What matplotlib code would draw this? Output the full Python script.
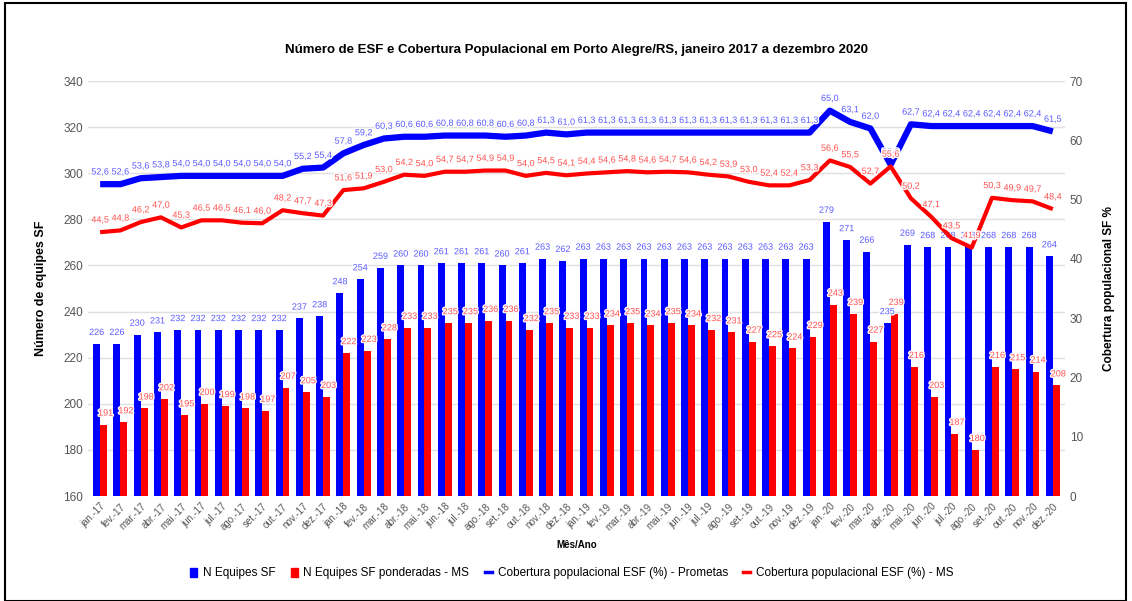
import numpy as np
import matplotlib.pyplot as plt
from matplotlib.patches import Rectangle, Patch
from matplotlib.lines import Line2D
import matplotlib.patheffects as pe

plt.rcParams['font.family'] = ['Liberation Sans', 'DejaVu Sans']

meses = ['jan.', 'fev.', 'mar.', 'abr.', 'mai.', 'jun.', 'jul.', 'ago.', 'set.', 'out.', 'nov.', 'dez.']
anos = ['17', '18', '19', '20']
rotulos = [m + '-' + a for a in anos for m in meses]

equipes = [226, 226, 230, 231, 232, 232, 232, 232, 232, 232, 237, 238,
           248, 254, 259, 260, 260, 261, 261, 261, 260, 261, 263, 262,
           263, 263, 263, 263, 263, 263, 263, 263, 263, 263, 263, 263,
           279, 271, 266, 235, 269, 268, 268, 268, 268, 268, 268, 264]
ponderadas = [191, 192, 198, 202, 195, 200, 199, 198, 197, 207, 205, 203,
              222, 223, 228, 233, 233, 235, 235, 236, 236, 232, 235, 233,
              233, 234, 235, 234, 235, 234, 232, 231, 227, 225, 224, 229,
              243, 239, 227, 239, 216, 203, 187, 180, 216, 215, 214, 208]
cob_prometas = [52.6, 52.6, 53.6, 53.8, 54.0, 54.0, 54.0, 54.0, 54.0, 54.0, 55.2, 55.4,
                57.8, 59.2, 60.3, 60.6, 60.6, 60.8, 60.8, 60.8, 60.6, 60.8, 61.3, 61.0,
                61.3, 61.3, 61.3, 61.3, 61.3, 61.3, 61.3, 61.3, 61.3, 61.3, 61.3, 61.3,
                65.0, 63.1, 62.0, 55.9, 62.7, 62.4, 62.4, 62.4, 62.4, 62.4, 62.4, 61.5]
cob_ms = [44.5, 44.8, 46.2, 47.0, 45.3, 46.5, 46.5, 46.1, 46.0, 48.2, 47.7, 47.3,
          51.6, 51.9, 53.0, 54.2, 54.0, 54.7, 54.7, 54.9, 54.9, 54.0, 54.5, 54.1,
          54.4, 54.6, 54.8, 54.6, 54.7, 54.6, 54.2, 53.9, 53.0, 52.4, 52.4, 53.3,
          56.6, 55.5, 52.7, 55.6, 50.2, 47.1, 43.5, 41.9, 50.3, 49.9, 49.7, 48.4]

azul = '#0000ff'
verm = '#ff0000'
x = np.arange(len(rotulos))
w = 0.34

fig = plt.figure(figsize=(11.32, 6.01), dpi=100)
ax = fig.add_axes([0.0777, 0.1747, 0.8631, 0.6905])
ax2 = ax.twinx()

ax.bar(x - w/2, equipes, w, color=azul, zorder=2)
ax.bar(x + w/2, ponderadas, w, color=verm, zorder=2)
ax.set_ylim(160, 340)
ax.set_yticks(np.arange(160, 341, 20))
ax.set_xlim(-0.6, 47.6)
ax.grid(axis='y', color='#e0e0e0', lw=1, zorder=0)
ax.set_axisbelow(True)

contorno = [pe.withStroke(linewidth=2, foreground='white')]
for xi, v in zip(x, equipes):
    ax.text(xi - w/2, v + 3, str(v), ha='center', va='bottom', fontsize=6.5,
            color='#5a5aff', path_effects=contorno, zorder=5)
for xi, v in zip(x, ponderadas):
    ax.text(xi + w/2 + 0.1, v + 3, str(v), ha='center', va='bottom', fontsize=6.5,
            color='#ff5050', path_effects=contorno, zorder=5)

ax2.plot(x, cob_prometas, color=azul, lw=4.5, solid_capstyle='butt', zorder=3)
ax2.plot(x, cob_ms, color=verm, lw=3, solid_capstyle='butt', zorder=3)
ax2.set_ylim(0, 70)
ax2.set_yticks(np.arange(0, 71, 10))
for xi, v in zip(x, cob_prometas):
    ax2.text(xi, v + 1.3, f'{v:.1f}'.replace('.', ','), ha='center', va='bottom',
             fontsize=6.5, color='#5a5aff', path_effects=contorno, zorder=6)
for xi, v in zip(x, cob_ms):
    ax2.text(xi, v + 1.3, f'{v:.1f}'.replace('.', ','), ha='center', va='bottom',
             fontsize=6.5, color='#ff5050', path_effects=contorno, zorder=6)

ax.set_xticks(x)
ax.set_xticklabels(rotulos, rotation=45, ha='right', rotation_mode='anchor',
                   fontsize=7, color='#555555')
for a in (ax, ax2):
    for s in a.spines.values():
        s.set_visible(False)
    a.tick_params(length=0, labelsize=8.5, labelcolor='#555555')
ax.tick_params(axis='x', labelsize=7, pad=4)

ax.set_ylabel('Número de equipes SF', fontsize=9, fontweight='bold', labelpad=12)
ax2.set_ylabel('Cobertura populacional SF %', fontsize=8.5, fontweight='bold', labelpad=14)
ax.set_xlabel('Mês/Ano', fontsize=7, fontweight='bold', labelpad=6)
ax.set_title('Número de ESF e Cobertura Populacional em Porto Alegre/RS, janeiro 2017 a dezembro 2020',
             fontsize=9.5, fontweight='bold', pad=20)

hs = [Patch(color=azul), Patch(color=verm),
      Line2D([], [], color=azul, lw=2.5), Line2D([], [], color=verm, lw=2.5)]
ls = ['N Equipes SF', 'N Equipes SF ponderadas - MS',
      'Cobertura populacional ESF (%) - Prometas', 'Cobertura populacional ESF (%) - MS']
fig.legend(hs, ls, loc='center', bbox_to_anchor=(0.505, 0.046), ncol=4, frameon=False,
           fontsize=8.5, handlelength=0.6, handleheight=0.8, handletextpad=0.5, columnspacing=1.3)

fig.patches.append(Rectangle((0.004, 0.0), 0.991, 0.995, transform=fig.transFigure,
                             fill=False, edgecolor='black', lw=1.5))

fig.savefig('out.png', dpi=100)
